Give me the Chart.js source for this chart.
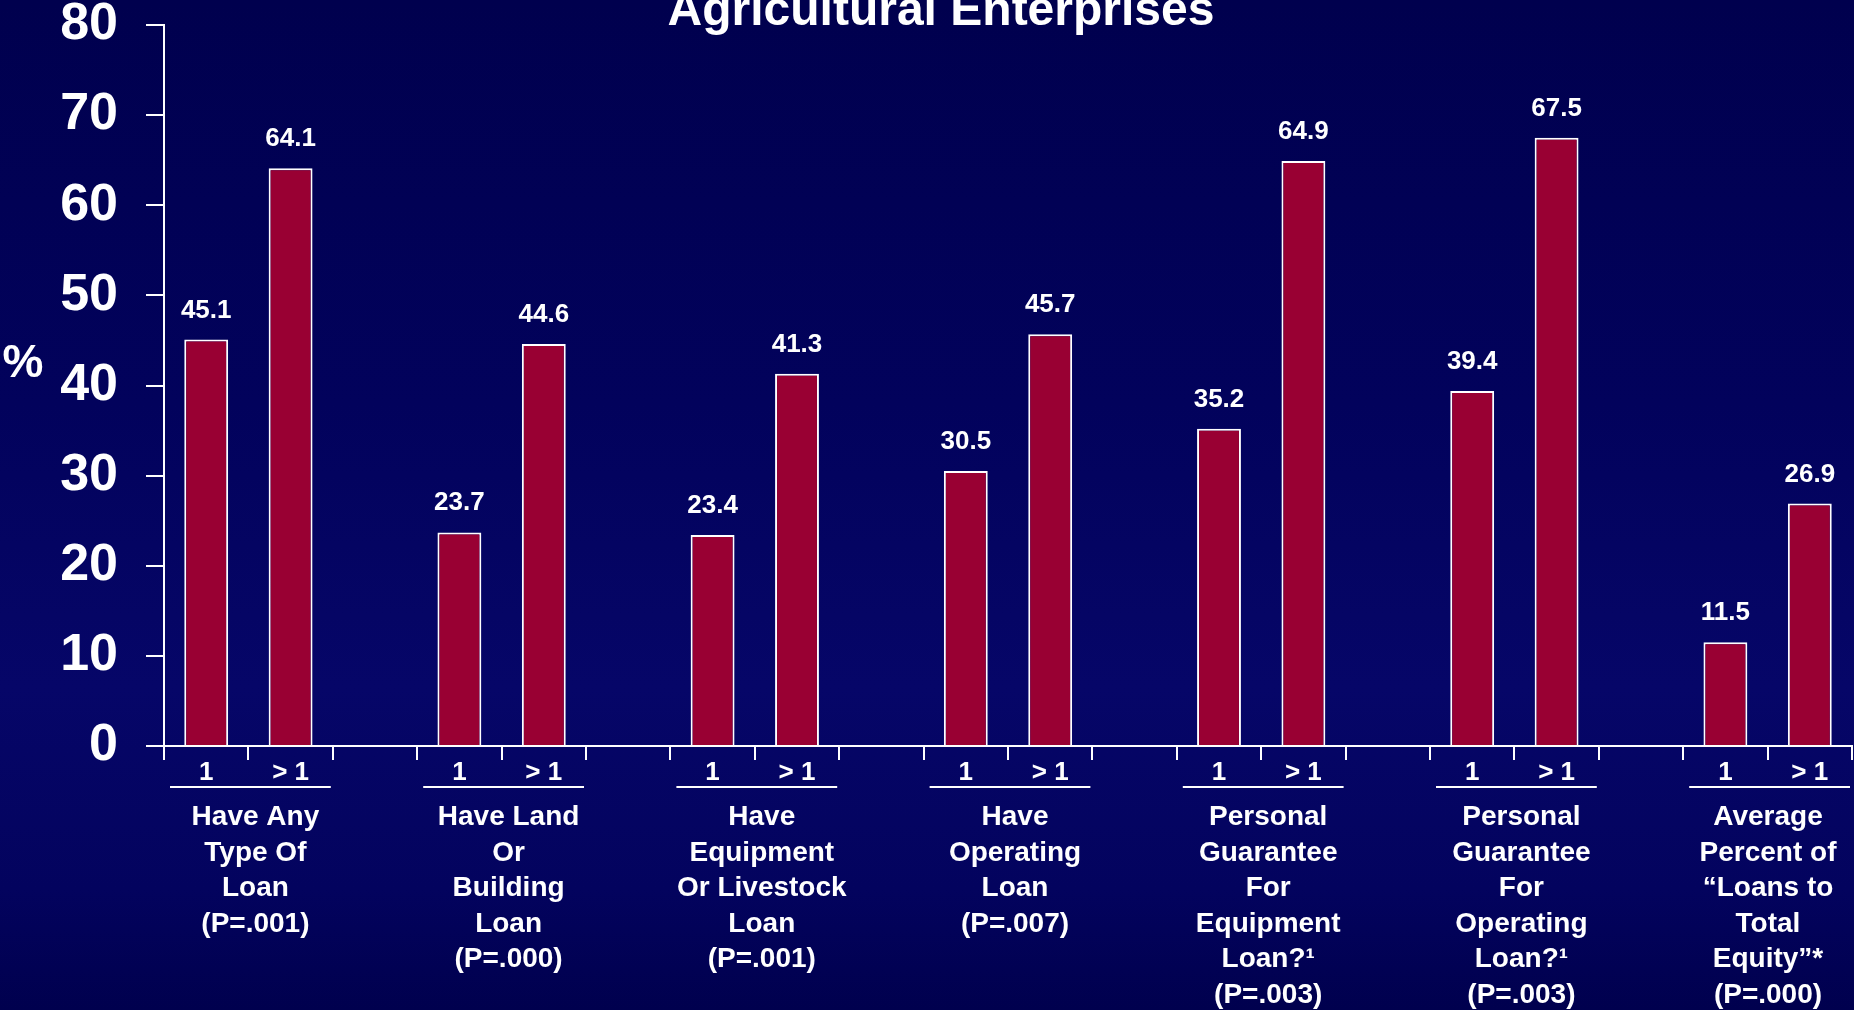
<!DOCTYPE html>
<html>
<head>
<meta charset="utf-8">
<title>Agricultural Enterprises</title>
<script src="https://cdn.jsdelivr.net/npm/chart.js@4/dist/chart.umd.min.js"></script>
<style>
    html, body {
        margin: 0;
        padding: 0;
        overflow: hidden;
    }
    body {
        width: 1854px;
        height: 1010px;
        background: linear-gradient(to bottom, #00004e 0%, #02025c 40%, #060668 68%, #03035e 88%, #00004e 100%);
    }
    #chartBox {
        position: relative;
        width: 1854px;
        height: 1010px;
    }
</style>
</head>
<body>
<div id="chartBox"><canvas id="loanChart"></canvas></div>
<script>
const chartTitle = 'Agricultural Enterprises';
const yAxisLabel = '%';

// number of agricultural enterprises: one vs. more than one
const countLabels = ['1', '> 1'];

const groupNames = [
    ['Have Any', 'Type Of', 'Loan', '(P=.001)'],
    ['Have Land', 'Or', 'Building', 'Loan', '(P=.000)'],
    ['Have', 'Equipment', 'Or Livestock', 'Loan', '(P=.001)'],
    ['Have', 'Operating', 'Loan', '(P=.007)'],
    ['Personal', 'Guarantee', 'For', 'Equipment', 'Loan?\u00b9', '(P=.003)'],
    ['Personal', 'Guarantee', 'For', 'Operating', 'Loan?\u00b9', '(P=.003)'],
    ['Average', 'Percent of', '\u201cLoans to', 'Total', 'Equity\u201d*', '(P=.000)']
];

const oneEnterprise = [45.1, 23.7, 23.4, 30.5, 35.2, 39.4, 11.5];
const moreEnterprises = [64.1, 44.6, 41.3, 45.7, 64.9, 67.5, 26.9];

const yMin = 0;
const yMax = 80;
const yStep = 10;

const FONT = '"Liberation Sans", Arial, sans-serif';
const WHITE = '#ffffff';

// each group gets two bar slots plus an empty spacer slot
function buildSlots() {
    let labels = [];
    let values = [];
    for (let g = 0; g < groupNames.length; g++) {
        labels.push(countLabels[0]);
        values.push(oneEnterprise[g]);
        labels.push(countLabels[1]);
        values.push(moreEnterprises[g]);
        if (g < groupNames.length - 1) {
            labels.push('');
            values.push(null);
        }
    }
    return { labels, values };
}

const textPlugin = {
    id: 'slideText',
    afterDatasetsDraw(chart) {
        const ctx = chart.ctx;
        const meta = chart.getDatasetMeta(0);
        const values = chart.data.datasets[0].data;

        ctx.save();
        ctx.fillStyle = WHITE;
        ctx.textAlign = 'center';
        ctx.textBaseline = 'alphabetic';
        ctx.font = 'bold 26px ' + FONT;
        meta.data.forEach((bar, i) => {
            if (values[i] == null) return;
            ctx.fillText(values[i].toFixed(1), bar.x, bar.y - 22);
        });
        ctx.restore();
    },
    afterDraw(chart) {
        const ctx = chart.ctx;
        const x = chart.scales.x;
        const y = chart.scales.y;
        const slot = x.getPixelForValue(1) - x.getPixelForValue(0);
        const axisY = chart.chartArea.bottom;

        ctx.save();
        ctx.fillStyle = WHITE;
        ctx.strokeStyle = WHITE;
        ctx.textAlign = 'center';
        ctx.textBaseline = 'alphabetic';

        // title, partly running off the top edge
        ctx.font = 'bold 48px ' + FONT;
        ctx.fillText(chartTitle, 941, 25);

        // "%" beside the value axis
        ctx.font = 'bold 46px ' + FONT;
        ctx.textBaseline = 'middle';
        ctx.fillText(yAxisLabel, 23, y.getPixelForValue(42.3));

        // underline and name under each pair of bars
        ctx.textBaseline = 'alphabetic';
        ctx.font = 'bold 28px ' + FONT;
        ctx.lineWidth = 2;
        groupNames.forEach((lines, g) => {
            const left = x.getPixelForValue(g * 3) - slot / 2;
            const right = x.getPixelForValue(g * 3 + 1) + slot / 2;
            ctx.beginPath();
            ctx.moveTo(left + 6, axisY + 41);
            ctx.lineTo(right - 2, axisY + 41);
            ctx.stroke();

            const cx = Math.min((left + right) / 2 + 7, chart.width - 86);
            lines.forEach((line, k) => {
                ctx.fillText(line, cx, axisY + 79 + k * 35.5);
            });
        });
        ctx.restore();
    }
};

function initializeChart() {
    const ctx = document.getElementById('loanChart').getContext('2d');
    const slots = buildSlots();

    window.loanChart = new Chart(ctx, {
        type: 'bar',
        data: {
            labels: slots.labels,
            datasets: [{
                data: slots.values,
                backgroundColor: '#990033',
                borderColor: WHITE,
                borderWidth: 2,
                categoryPercentage: 1,
                barPercentage: 0.52
            }]
        },
        options: {
            responsive: true,
            maintainAspectRatio: false,
            animation: false,
            layout: {
                padding: { top: 25, right: 2, left: 0, bottom: 0 }
            },
            plugins: {
                legend: { display: false },
                title: { display: false },
                tooltip: { enabled: false }
            },
            scales: {
                x: {
                    offset: true,
                    afterFit(scale) { scale.height = 264; },
                    border: { display: true, color: WHITE, width: 2 },
                    grid: {
                        offset: true,
                        drawOnChartArea: false,
                        drawTicks: true,
                        tickLength: 14,
                        color: WHITE,
                        lineWidth: 2
                    },
                    ticks: {
                        color: WHITE,
                        autoSkip: false,
                        maxRotation: 0,
                        padding: 0,
                        font: { family: FONT, size: 26, weight: 'bold', lineHeight: 1 }
                    }
                },
                y: {
                    min: yMin,
                    max: yMax,
                    afterFit(scale) {
                        scale.width = 164;
                        // let the top tick label hang above the plot area
                        scale.paddingTop = 0;
                        scale.paddingBottom = 0;
                    },
                    border: { display: true, color: WHITE, width: 2 },
                    grid: {
                        drawOnChartArea: false,
                        drawTicks: true,
                        tickLength: 18,
                        color: WHITE,
                        lineWidth: 2
                    },
                    ticks: {
                        stepSize: yStep,
                        color: WHITE,
                        padding: 28,
                        font: { family: FONT, size: 52, weight: 'bold', lineHeight: 1 }
                    }
                }
            }
        },
        plugins: [textPlugin]
    });
}

document.addEventListener('DOMContentLoaded', function() {
    initializeChart();
});
</script>
</body>
</html>
